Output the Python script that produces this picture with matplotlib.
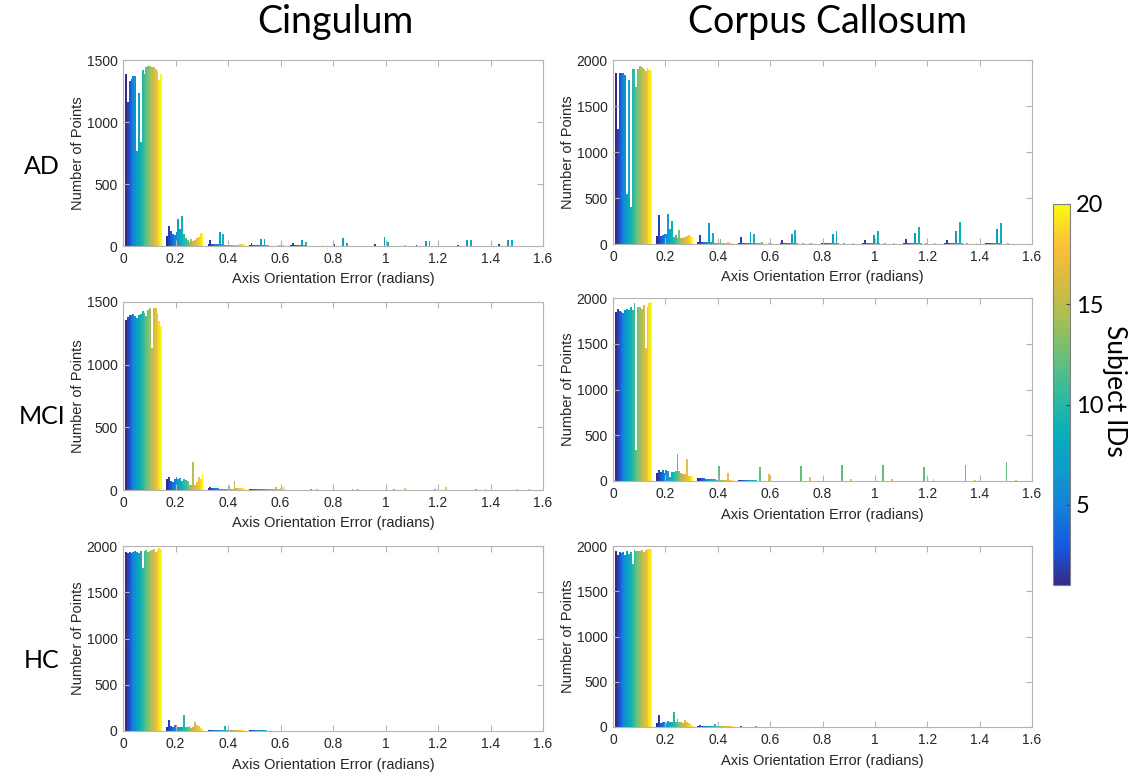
import numpy as np
import matplotlib
matplotlib.use('Agg')
import matplotlib.pyplot as plt
from matplotlib.colors import LinearSegmentedColormap, Normalize
from matplotlib.cm import ScalarMappable

# approximate MATLAB parula colormap
parula_pts = [(0.2081, 0.1663, 0.5292), (0.0770, 0.3490, 0.8760), (0.0780, 0.5000, 0.8500),
              (0.0590, 0.6050, 0.8000), (0.0300, 0.6850, 0.7300), (0.1900, 0.7300, 0.6200),
              (0.4200, 0.7500, 0.4700), (0.6500, 0.7500, 0.3300), (0.8600, 0.7300, 0.2400),
              (0.9900, 0.7600, 0.2200), (0.9763, 0.9831, 0.0538)]
parula = LinearSegmentedColormap.from_list('parula', parula_pts)

n_subjects = 20
n_bins = 10
bin_edges = np.linspace(0, np.pi / 2, n_bins + 1)   # orientation error bins (radians)

# rows = error bins, columns = subjects 1..20
ad_cing = [
    [1385, 1160, 1330, 1350, 1375, 1370, 770, 1230, 840, 1420, 1390, 1440, 1450, 1455, 1445, 1440, 1430, 1410, 1340, 1390],
    [80, 160, 125, 95, 90, 110, 215, 135, 240, 95, 65, 45, 35, 55, 40, 45, 65, 70, 105, 95],
    [20, 50, 15, 15, 15, 15, 110, 20, 100, 10, 10, 10, 10, 8, 8, 10, 12, 15, 15, 15],
    [5, 27, 8, 5, 5, 5, 56, 5, 54, 5, 5, 3, 3, 3, 3, 3, 8, 10, 5, 5],
    [5, 22, 5, 5, 5, 5, 48, 5, 30, 4, 3, 3, 3, 3, 3, 3, 4, 5, 3, 3],
    [4, 15, 4, 4, 4, 4, 67, 4, 25, 3, 3, 3, 3, 3, 3, 3, 3, 4, 3, 3],
    [4, 18, 4, 4, 4, 4, 75, 4, 30, 3, 3, 3, 3, 3, 3, 3, 3, 6, 3, 3],
    [3, 10, 3, 3, 3, 3, 40, 3, 38, 3, 3, 3, 3, 3, 3, 3, 3, 3, 3, 3],
    [3, 10, 3, 3, 3, 3, 45, 3, 50, 3, 3, 3, 3, 3, 3, 3, 3, 3, 3, 3],
    [3, 13, 3, 3, 3, 3, 50, 3, 50, 3, 3, 3, 3, 3, 3, 3, 3, 3, 3, 3],
]
ad_cc = [
    [1860, 1250, 1860, 1860, 1855, 1840, 540, 1780, 400, 1900, 1900, 1710, 1900, 1930, 1920, 1900, 1880, 1910, 1890, 1890],
    [90, 310, 85, 95, 110, 110, 330, 160, 245, 75, 95, 60, 150, 65, 70, 75, 85, 95, 90, 80],
    [25, 95, 25, 25, 25, 25, 225, 20, 120, 15, 15, 15, 55, 10, 10, 15, 20, 15, 10, 10],
    [15, 75, 15, 15, 15, 15, 135, 15, 110, 10, 10, 10, 25, 5, 5, 5, 10, 10, 5, 5],
    [10, 45, 10, 10, 10, 10, 110, 12, 155, 8, 5, 5, 15, 5, 5, 5, 8, 8, 5, 5],
    [8, 45, 8, 8, 8, 8, 110, 10, 145, 8, 5, 5, 10, 5, 5, 5, 5, 8, 5, 5],
    [8, 45, 8, 8, 8, 8, 95, 10, 145, 6, 5, 5, 8, 4, 4, 4, 5, 6, 4, 4],
    [8, 55, 8, 8, 8, 8, 125, 10, 185, 6, 5, 5, 8, 4, 4, 4, 5, 6, 4, 4],
    [8, 40, 8, 8, 8, 8, 145, 10, 235, 6, 5, 5, 8, 4, 4, 4, 5, 6, 4, 4],
    [6, 15, 6, 6, 6, 6, 160, 8, 225, 5, 4, 4, 6, 3, 3, 3, 4, 5, 3, 3],
]
mci_cing = [
    [1360, 1380, 1395, 1400, 1405, 1385, 1370, 1395, 1405, 1430, 1410, 1390, 1440, 1450, 1130, 1450, 1450, 1410, 1350, 1305],
    [85, 100, 75, 65, 85, 100, 85, 95, 75, 85, 80, 75, 40, 40, 225, 40, 65, 105, 85, 125],
    [15, 20, 18, 15, 12, 12, 10, 10, 10, 8, 8, 30, 8, 8, 70, 15, 15, 15, 15, 15],
    [8, 8, 8, 8, 6, 6, 5, 5, 5, 5, 4, 8, 4, 4, 20, 4, 5, 13, 27, 5],
    [3, 3, 3, 3, 3, 3, 3, 3, 3, 3, 3, 8, 3, 3, 10, 3, 3, 3, 3, 3],
    [2, 2, 2, 2, 2, 2, 2, 2, 2, 2, 2, 10, 2, 2, 4, 2, 2, 2, 2, 2],
    [2, 2, 2, 2, 2, 2, 2, 2, 2, 2, 2, 8, 2, 2, 3, 2, 2, 12, 2, 2],
    [2, 2, 2, 2, 2, 2, 2, 2, 2, 2, 2, 5, 2, 2, 3, 2, 2, 20, 2, 2],
    [2, 2, 2, 2, 2, 2, 2, 2, 2, 2, 2, 8, 2, 2, 2, 2, 5, 2, 2, 2],
    [2, 2, 2, 2, 2, 2, 2, 2, 2, 2, 2, 10, 2, 2, 2, 2, 2, 5, 2, 2],
]
mci_cc = [
    [1850, 1880, 1860, 1850, 1840, 1870, 1880, 1870, 1900, 1870, 1940, 340, 1900, 1900, 1880, 1920, 1450, 1900, 1950, 1960],
    [85, 120, 95, 120, 90, 120, 110, 40, 100, 100, 110, 300, 110, 85, 80, 80, 240, 50, 55, 50],
    [30, 30, 30, 28, 25, 25, 25, 25, 25, 20, 10, 165, 10, 10, 10, 10, 90, 10, 10, 10],
    [10, 10, 10, 10, 10, 10, 8, 8, 8, 8, 5, 150, 5, 5, 5, 5, 76, 5, 5, 5],
    [5, 5, 5, 5, 5, 5, 5, 5, 5, 5, 3, 165, 3, 3, 3, 3, 47, 3, 3, 3],
    [3, 3, 3, 3, 3, 3, 3, 3, 3, 3, 3, 170, 3, 3, 3, 3, 25, 3, 3, 3],
    [3, 3, 3, 3, 3, 3, 3, 3, 3, 3, 3, 178, 3, 3, 3, 3, 20, 3, 3, 3],
    [3, 3, 3, 3, 3, 3, 3, 3, 3, 3, 3, 157, 3, 3, 3, 3, 18, 3, 3, 3],
    [3, 3, 3, 3, 3, 3, 3, 3, 3, 3, 3, 175, 3, 3, 3, 3, 12, 3, 3, 3],
    [3, 3, 3, 3, 3, 3, 3, 3, 3, 3, 3, 210, 3, 3, 3, 3, 11, 3, 3, 3],
]
hc_cing = [
    [1940, 1920, 1930, 1920, 1930, 1950, 1940, 1920, 1950, 1760, 1950, 1960, 1940, 1950, 1960, 1970, 1940, 1960, 1980, 1970],
    [45, 120, 55, 45, 60, 65, 45, 40, 45, 175, 45, 40, 55, 30, 40, 95, 60, 55, 30, 25],
    [15, 12, 10, 10, 10, 10, 10, 10, 10, 58, 10, 10, 10, 10, 12, 15, 10, 15, 8, 8],
    [8, 8, 8, 8, 8, 8, 8, 8, 8, 15, 5, 5, 5, 5, 5, 5, 5, 5, 5, 5],
    [3, 3, 3, 3, 3, 3, 3, 3, 3, 5, 3, 3, 3, 3, 3, 3, 3, 3, 3, 3],
    [2, 2, 2, 2, 2, 2, 2, 2, 2, 3, 2, 2, 2, 2, 2, 2, 2, 2, 2, 2],
    [2, 2, 2, 2, 2, 2, 2, 2, 2, 3, 2, 2, 2, 2, 2, 2, 2, 2, 2, 2],
    [2, 2, 2, 2, 2, 2, 2, 2, 2, 2, 2, 2, 2, 2, 2, 2, 2, 2, 2, 2],
    [2, 2, 2, 2, 2, 2, 2, 2, 2, 2, 2, 2, 2, 2, 2, 2, 2, 2, 2, 2],
    [2, 2, 2, 2, 2, 2, 2, 2, 2, 2, 2, 2, 2, 2, 2, 2, 2, 2, 2, 2],
]
hc_cc = [
    [1950, 1900, 1930, 1920, 1930, 1900, 1940, 1910, 1930, 1800, 1960, 1940, 1950, 1950, 1960, 1930, 1960, 1970, 1970, 1970],
    [40, 130, 45, 50, 60, 40, 70, 55, 60, 165, 60, 90, 60, 50, 40, 80, 50, 40, 30, 25],
    [12, 20, 12, 12, 12, 12, 12, 12, 12, 30, 10, 15, 10, 10, 10, 15, 10, 10, 8, 8],
    [5, 8, 5, 5, 5, 5, 5, 5, 5, 10, 5, 5, 5, 5, 5, 5, 5, 5, 5, 5],
    [3, 3, 3, 3, 3, 3, 3, 3, 3, 5, 3, 3, 3, 3, 3, 3, 3, 3, 3, 3],
    [2, 2, 2, 2, 2, 2, 2, 2, 2, 3, 2, 2, 2, 2, 2, 2, 2, 2, 2, 2],
    [2, 2, 2, 2, 2, 2, 2, 2, 2, 3, 2, 2, 2, 2, 2, 2, 2, 2, 2, 2],
    [2, 2, 2, 2, 2, 2, 2, 2, 2, 2, 2, 2, 2, 2, 2, 2, 2, 2, 2, 2],
    [2, 2, 2, 2, 2, 2, 2, 2, 2, 2, 2, 2, 2, 2, 2, 2, 2, 2, 2, 2],
    [2, 2, 2, 2, 2, 2, 2, 2, 2, 2, 2, 2, 2, 2, 2, 2, 2, 2, 2, 2],
]

col_titles = ['Cingulum', 'Corpus Callosum']
row_labels = ['AD', 'MCI', 'HC']
xticks = [0, 0.2, 0.4, 0.6, 0.8, 1.0, 1.2, 1.4, 1.6]
xtick_labels = ['0', '0.2', '0.4', '0.6', '0.8', '1', '1.2', '1.4', '1.6']

panels = [(ad_cing, ad_cc), (mci_cing, mci_cc), (hc_cing, hc_cc)]
ymax = [(1500, 2000), (1500, 2000), (2000, 2000)]

# axes rectangles in pixels: (left, top, right, bottom)
W, H = 1129, 776
boxes = [[(123, 60, 543, 246), (613, 60, 1032, 244)],
         [(123, 302, 543, 490), (613, 298, 1032, 481)],
         [(123, 546, 543, 731), (613, 546, 1032, 727)]]

plt.rcParams['font.family'] = ['Liberation Sans', 'DejaVu Sans']
fig = plt.figure(figsize=(W / 100, H / 100), dpi=100)

gray = '#b4b4b4'
txt = '#262626'
colors = parula(np.linspace(0, 1, n_subjects))
centers = 0.5 * (bin_edges[:-1] + bin_edges[1:])
group_w = 0.9 * (bin_edges[1] - bin_edges[0])
bar_w = group_w / n_subjects

for r in range(3):
    for c in range(2):
        l, t, rr, b = boxes[r][c]
        ax = fig.add_axes([l / W, 1 - b / H, (rr - l) / W, (b - t) / H])
        data = np.array(panels[r][c])
        for j in range(n_subjects):
            x = centers - group_w / 2 + (j + 0.5) * bar_w
            ax.bar(x, data[:, j], width=bar_w, color=colors[j], linewidth=0, zorder=1)
        ax.set_xlim(0, 1.6)
        ax.set_ylim(0, ymax[r][c])
        ax.set_xticks(xticks)
        ax.set_xticklabels(xtick_labels)
        ax.set_yticks(np.arange(0, ymax[r][c] + 1, 500))
        ax.tick_params(direction='in', top=True, right=True, length=4, width=0.8,
                       color=gray, labelcolor=txt, labelsize=10, pad=4)
        for s in ax.spines.values():
            s.set_color(gray)
            s.set_linewidth(0.8)
            s.set_zorder(3)
        ax.set_xlabel('Axis Orientation Error (radians)', fontsize=10.5, color=txt, labelpad=5)
        ax.set_ylabel('Number of Points', fontsize=10.5, color=txt, labelpad=1)

title_font = ['Lato', 'DejaVu Sans']
fig.text(335 / W, 1 - 22 / H, col_titles[0], ha='center', va='center', fontsize=27, family=title_font)
fig.text(828 / W, 1 - 22 / H, col_titles[1], ha='center', va='center', fontsize=27, family=title_font)
for lab, yy in zip(row_labels, [167, 416, 660]):
    fig.text(42 / W, 1 - yy / H, lab, ha='center', va='center', fontsize=18, family=title_font)

cax = fig.add_axes([1053 / W, 1 - 585 / H, 17 / W, 381 / H])
sm = ScalarMappable(norm=Normalize(1, 20), cmap=parula)
cb = fig.colorbar(sm, cax=cax, ticks=[5, 10, 15, 20])
cb.outline.set_edgecolor('#808080')
cb.outline.set_linewidth(0.8)
cax.tick_params(direction='in', length=3, color='#404040', labelsize=17, pad=4)
for t_ in cax.get_yticklabels():
    t_.set_family(title_font)
fig.text(1114 / W, 1 - 391 / H, 'Subject IDs', rotation=270, ha='center', va='center',
         fontsize=19, family=title_font)

fig.savefig('out.png', dpi=100)
